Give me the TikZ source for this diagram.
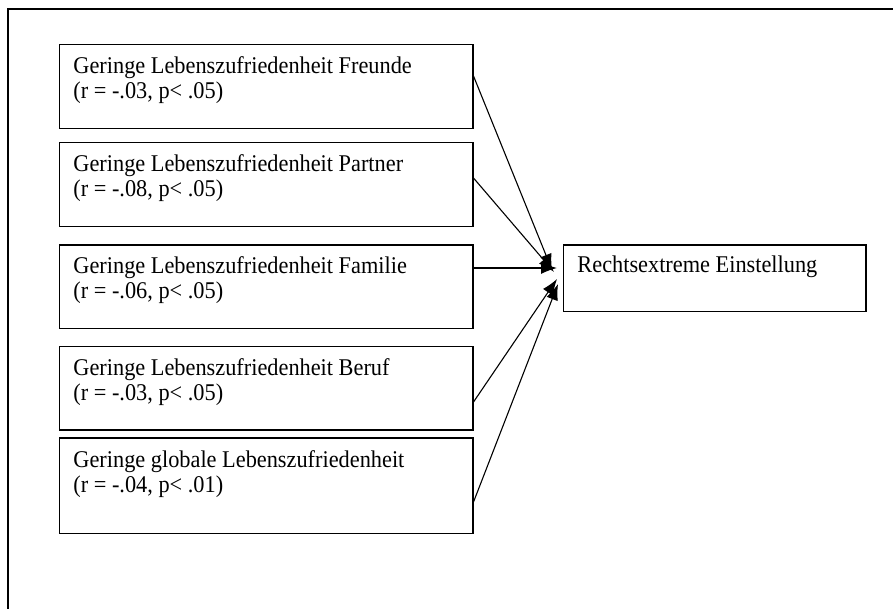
\documentclass[tikz,border=0pt]{standalone}
\usepackage{fontspec}
\setmainfont{Liberation Serif}[FakeStretch=0.93]
\usetikzlibrary{arrows.meta,calc}
\newcommand{\bxtext}[5]{\parbox[c][#1][t]{#2}{\fontsize{12pt}{12.5pt}\selectfont\raggedright\leftskip=#3\baselineskip=12.5pt\rule{0pt}{#4}#5\par}}
\tikzset{
  bx/.style={draw, line width=0.75pt, inner sep=0pt, anchor=north west},
  conn/.style={line width=0.55pt, -{Latex[length=8pt,width=6pt]}},
  frame/.style={line width=1pt}
}
\begin{document}
\begin{tikzpicture}[x=0.5pt,y=-0.5pt]
\useasboundingbox (0,0) rectangle (893,609);
% outer frame (left and top edges only)
\coordinate (fb) at (8,609);
\coordinate (fc) at (8,9);
\coordinate (fr) at (893,9);
\draw[frame] (fb) -- (fc) -- (fr);
% boxes
\node[bx] (b1) at (58.5,44) {\bxtext{42pt}{206.75pt}{7.1pt}{14.5pt}{Geringe Lebenszufriedenheit Freunde\\(r = -.03, p< .05)}};
\node[bx] (b2) at (58.5,141.7) {\bxtext{42pt}{206.75pt}{7.1pt}{14.5pt}{Geringe Lebenszufriedenheit Partner\\(r = -.08, p< .05)}};
\node[bx] (b3) at (58.5,244) {\bxtext{41.85pt}{206.75pt}{7.1pt}{14.5pt}{Geringe Lebenszufriedenheit Familie\\(r = -.06, p< .05)}};
\node[bx] (b4) at (58.5,345.7) {\bxtext{41.8pt}{206.75pt}{7.1pt}{14.5pt}{Geringe Lebenszufriedenheit Beruf\\(r = -.03, p< .05)}};
\node[bx] (b5) at (58.5,437.3) {\bxtext{47.7pt}{206.75pt}{7.1pt}{14.5pt}{Geringe globale Lebenszufriedenheit\\(r = -.04, p< .01)}};
\node[bx] (t) at (562.7,244) {\bxtext{33.35pt}{151.15pt}{7pt}{13.9pt}{Rechtsextreme Einstellung}};
% arrow end points
\coordinate (e1) at (552,270);
\coordinate (e2) at (554,272);
\coordinate (e3) at (557,268);
\coordinate (e4) at (557,279);
\coordinate (e5) at (558,284);
% connectors
\draw[conn] ([yshift=-16pt]b1.north east) -- (e1);
\draw[conn] ([yshift=-18.15pt]b2.north east) -- (e2);
\draw[conn] ([yshift=-12pt]b3.north east) -- (e3);
\draw[conn] ([yshift=-28.15pt]b4.north east) -- (e4);
\draw[conn] ([yshift=-32.35pt]b5.north east) -- (e5);
\end{tikzpicture}
\end{document}
